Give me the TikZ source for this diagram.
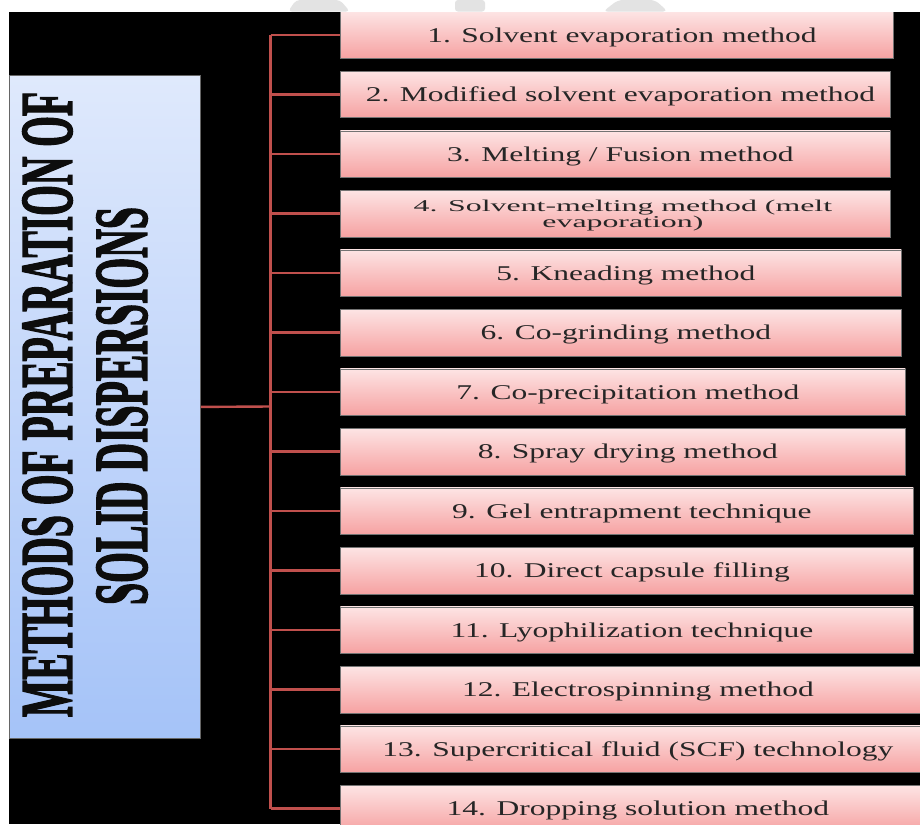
\documentclass[tikz,border=0pt]{standalone}
\usepackage{fontspec}
\setmainfont{Liberation Serif}
\newfontfamily\titlefont[FakeBold=2.5]{Liberation Serif}
\definecolor{conn}{HTML}{C0504D}
\definecolor{pinkT}{HTML}{FDE4E4}
\definecolor{pinkB}{HTML}{F6A2A2}
\definecolor{blueT}{HTML}{DFE9FC}
\definecolor{blueB}{HTML}{A5C3F8}
\definecolor{txt}{HTML}{262626}
\definecolor{wm}{HTML}{E3E3E3}
\newcommand\widetxt[1]{\hspace*{10pt}\scalebox{1.5}[1]{#1}}
\tikzset{
  methbox/.style={rectangle, anchor=north west, inner sep=0pt, minimum height=46.5pt,
    top color=pinkT, bottom color=pinkB, draw=black!55, line width=0.8pt, text=txt,
    font=\fontsize{21}{17}\selectfont, text height=14pt, text depth=0pt},
  titlebox/.style={rectangle, anchor=north west, inner sep=0pt, minimum width=191pt,
    minimum height=663pt, top color=blueT, bottom color=blueB, draw=black!60, line width=0.8pt},
  titletxt/.style={rotate=90, inner sep=0pt, text=black!95},
  link/.style={draw=conn, line width=2.4pt},
}
\begin{document}
\begin{tikzpicture}[x=1pt,y=-1pt]
\clip (0,0) rectangle (920,824);
\fill[white] (0,0) rectangle (920,824);
\fill[black] (9,12) rectangle (920,824);

% title box
\node[titlebox] (t) at (9,75) {};
\node[titletxt] (t1) at (47.5,404.5) {\resizebox{625pt}{49pt}{\titlefont\bfseries METHODS OF PREPARATION OF}};
\node[titletxt] (t2) at (122,406) {\resizebox{398pt}{50pt}{\titlefont\bfseries SOLID DISPERSIONS}};

% method boxes
\node[methbox, minimum width=553pt] (b1) at (340,11.5) {\widetxt{1. Solvent evaporation method}};
\node[methbox, minimum width=550pt] (b2) at (340,71) {\widetxt{2. Modified solvent evaporation method}};
\node[methbox, minimum width=550pt] (b3) at (340,130.5) {\widetxt{3. Melting / Fusion method}};
\node[methbox, minimum width=550pt, font=\fontsize{16.5}{16}\selectfont, text height=27pt, text depth=-4pt] (b4) at (340,190)
  {\hspace*{15pt}\scalebox{1.93}[1]{\vbox{\baselineskip=16pt\lineskiplimit=-30pt\halign{\hfil#\hfil\cr 4. Solvent-melting method (melt\cr evaporation)\cr}}}};
\node[methbox, minimum width=561pt] (b5) at (340,249.5) {\widetxt{5. Kneading method}};
\node[methbox, minimum width=561pt] (b6) at (340,309) {\widetxt{6. Co-grinding method}};
\node[methbox, minimum width=565pt] (b7) at (340,368.5) {\widetxt{7. Co-precipitation method}};
\node[methbox, minimum width=565pt] (b8) at (340,428) {\widetxt{8. Spray drying method}};
\node[methbox, minimum width=573pt] (b9) at (340,487.5) {\widetxt{9. Gel entrapment technique}};
\node[methbox, minimum width=573pt] (b10) at (340,547) {\widetxt{10. Direct capsule filling}};
\node[methbox, minimum width=573pt] (b11) at (340,606.5) {\widetxt{11. Lyophilization technique}};
\node[methbox, minimum width=585pt] (b12) at (340,666) {\widetxt{12. Electrospinning method}};
\node[methbox, minimum width=585pt] (b13) at (340,725.5) {\widetxt{13. Supercritical fluid (SCF) technology}};
\node[methbox, minimum width=585pt] (b14) at (340,785) {\widetxt{14. Dropping solution method}};

% connectors
\coordinate (hub) at (270.5,406.5);
\draw[link] (t.east) -- (hub);
\draw[link] (hub |- b1.west) -- (hub |- b14.west);
\foreach \i in {1,...,14} { \draw[link] (hub |- b\i.west) -- (b\i.west); }

% top strip drawn over the first box, with its faint watermark
\fill[white] (0,0) rectangle (920,11.6);
\fill[wm, rounded corners=4pt] (288,11.6) -- (296,0) -- (340,0) -- (350,11.6) -- cycle;
\fill[wm, rounded corners=3pt] (455,11.6) rectangle (485,0);
\fill[wm, rounded corners=5pt] (603,11.6) -- (618,0) -- (655,0) -- (668,11.6) -- cycle;
\end{tikzpicture}
\end{document}
